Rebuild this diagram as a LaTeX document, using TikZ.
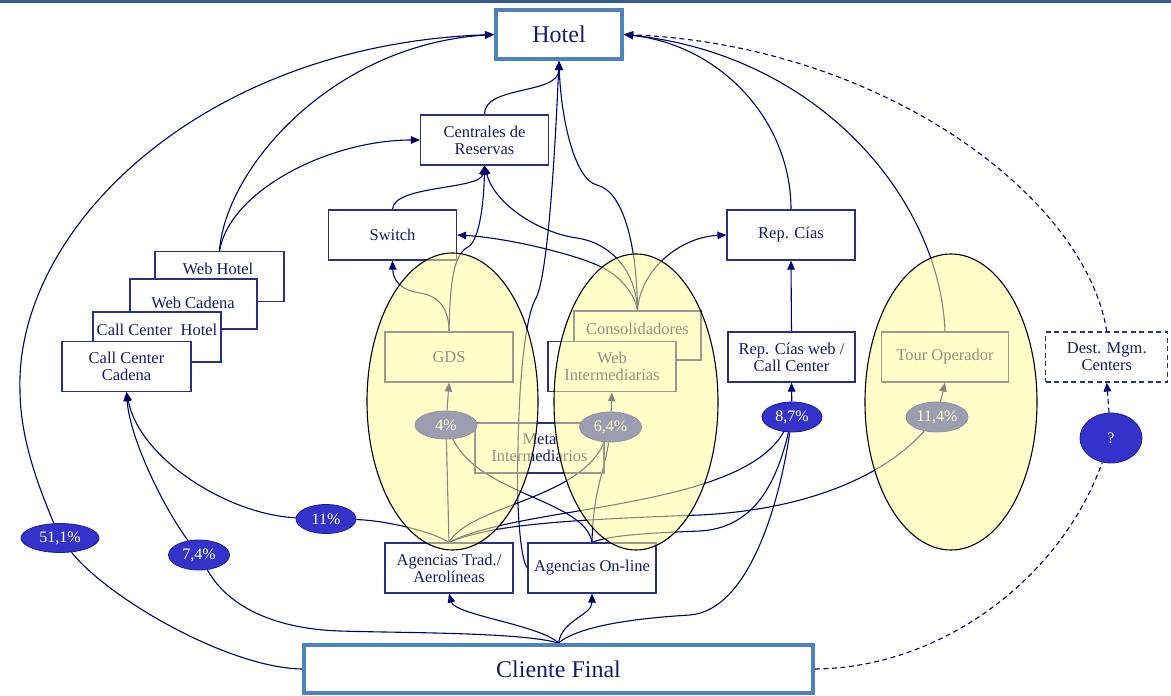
\documentclass[tikz,border=0pt]{standalone}
\usepackage{fontspec}
\setmainfont{Liberation Serif}
\usetikzlibrary{arrows.meta,shapes.geometric}
\pgfdeclarelayer{wires}
\pgfdeclarelayer{veil}
\pgfsetlayers{wires,main,veil}

\definecolor{navyline}{RGB}{0,0,110}
\definecolor{navybox}{RGB}{45,45,140}
\definecolor{navytext}{RGB}{25,25,110}
\definecolor{frameblue}{RGB}{79,129,189}
\definecolor{pctblue}{RGB}{51,51,204}
\definecolor{pctedge}{RGB}{30,30,150}
\definecolor{paleyellow}{RGB}{255,255,153}
\definecolor{topbar}{RGB}{52,92,140}

\tikzset{
  stdbox/.style={draw=navybox, line width=1.2pt, fill=white, minimum width=128pt,
    minimum height=50pt, inner sep=0pt, align=center, text=navytext,
    font=\fontsize{16.5}{17}\selectfont},
  openbox/.style={stdbox, fill=none},
  dashbox/.style={stdbox, dashed, dash pattern=on 5pt off 3.5pt},
  bigbox/.style={draw=frameblue, line width=4pt, fill=white, inner sep=0pt,
    text=navytext, font=\fontsize{24}{26}\selectfont},
  lbl/.style={inner sep=0pt, align=center, text=navytext, font=\fontsize{16.5}{17}\selectfont},
  pct/.style={ellipse, draw=pctedge, line width=0.8pt, fill=pctblue, inner sep=0pt,
    text=white, font=\fontsize{16}{17}\selectfont},
  zone/.style={ellipse, draw=black, line width=1.1pt, fill=paleyellow,
    fill opacity=0.52, inner sep=0pt},
  wire/.style={draw=navyline, line width=1.1pt},
  tip/.style={-{Triangle[length=9pt,width=7.5pt]}},
  arrowwire/.style={wire, tip},
  dashwire/.style={wire, dashed, dash pattern=on 5pt off 3.5pt},
}

\begin{document}
\begin{tikzpicture}[x=1pt, y=-1pt]
\useasboundingbox (0,0) rectangle (1171,696);
\fill[topbar] (0,0) rectangle (1171,2.5);

% main boxes
\node[bigbox, minimum width=126pt, minimum height=49pt] (hotel) at (559,34.5) {Hotel};
\node[bigbox, minimum width=509pt, minimum height=48pt] (cliente) at (558.5,669) {Cliente Final};
\node[stdbox] (centrales) at (484.5,140) {Centrales de\\Reservas};
\node[stdbox] (switch) at (392.5,235) {Switch};
\node[stdbox] (repcias) at (791,235) {Rep. Cías};

% stacked own channels
\node[stdbox, minimum width=129pt] (webhotel) at (219.5,276.5) {};
\node[lbl] (webhotelT) at (218,269) {Web Hotel};
\node[stdbox, minimum width=127pt] (webcadena) at (193.5,304) {};
\node[lbl] (webcadenaT) at (193,303) {Web Cadena};
\node[stdbox] (callhotel) at (157,337) {};
\node[lbl] (callhotelT) at (157,330) {Call Center\ \ Hotel};
\node[stdbox, minimum width=129pt] (callcadena) at (126.5,366.5) {Call Center\\Cadena};

% intermediaries
\node[stdbox, minimum width=127pt, minimum height=49pt] (consol) at (637.5,335.5) {};
\node[lbl] (consolT) at (637.5,329) {Consolidadores};
\node[stdbox] (webint) at (612,366.7) {Web\\Intermediarias};
\node[stdbox] (gds) at (449,357) {GDS};
\node[openbox, minimum width=129pt] (meta) at (539.5,448) {Meta\\Intermediarios};
\node[stdbox, minimum width=127pt] (repweb) at (791.5,357) {Rep. Cías web /\\Call Center};
\node[stdbox, minimum width=127pt] (tour) at (945,357) {Tour Operador};
\node[dashbox, minimum width=122pt] (dest) at (1106.75,357) {Dest. Mgm.\\Centers};
\node[stdbox] (agtrad) at (449,568) {Agencias Trad./\\Aerolíneas};
\node[stdbox] (agonline) at (592,568) {Agencias On-line};

% shares
\node[pct, minimum width=78pt, minimum height=29pt] (p51) at (60,538) {51,1\%};
\node[pct, minimum width=61pt, minimum height=30pt] (p74) at (199,555) {7,4\%};
\node[pct, minimum width=60pt, minimum height=29pt] (p11) at (326,519) {11\%};
\node[pct, minimum width=62pt, minimum height=28pt] (p4) at (446,425) {4\%};
\node[pct, minimum width=62pt, minimum height=30pt] (p64) at (610.5,427) {6,4\%};
\node[pct, minimum width=60pt, minimum height=30pt] (p87) at (792,417) {8,7\%};
\node[pct, minimum width=62pt, minimum height=30pt] (p114) at (937,417) {11,4\%};
\node[pct, minimum width=62pt, minimum height=50pt] (pq) at (1111,438) {?};

\begin{pgfonlayer}{wires}
% direct booking path
\draw[wire] (cliente.west) .. controls (230,668) and (110,600) .. (p51);
\draw[arrowwire] (p51) .. controls (40,490) and (20,440) .. (20,390)
  .. controls (15,230) and (200,45) .. (hotel.west);
\draw[arrowwire] (webhotel.north) .. controls (225,170) and (330,45) .. (hotel.west);
\draw[arrowwire] (webhotel.north) .. controls (230,190) and (330,140) .. (centrales.west);

% into Hotel from below
\draw[arrowwire] (centrales.north) .. controls (484,85) and (559,95) .. (hotel.south);
\draw[arrowwire] (agonline.west) .. controls (520,560) and (516,500) .. (518,450)
  .. controls (519,380) and (525,320) .. (535,300)
  .. controls (545,285) and (553,200) .. (hotel.south);
\draw[arrowwire] (consol.north) .. controls (637,250) and (625,192) .. (597,185)
  .. controls (575,180) and (561,120) .. (hotel.south);

% into Hotel from the right
\draw[arrowwire] (repcias.north) .. controls (791,120) and (720,45) .. (hotel.east);
\draw[arrowwire] (tour.north) .. controls (940,200) and (820,55) .. (hotel.east);
\draw[dashwire, tip] (dest.north) .. controls (1085,195) and (880,45) .. (hotel.east);
\draw[dashwire] (cliente.east) .. controls (940,668) and (1060,580) .. (pq);
\draw[dashwire, tip] (pq) -- (dest.south);

% reservation centres and switch
\draw[arrowwire] (switch.north) .. controls (393,185) and (480,190) .. (centrales.south);
\draw[arrowwire] (gds.north) .. controls (450,290) and (452,255) .. (468,247)
  .. controls (480,240) and (484,200) .. (centrales.south);
\draw[arrowwire] (consol.north) .. controls (636,270) and (610,243) .. (577,238)
  .. controls (540,233) and (495,205) .. (centrales.south);
\draw[arrowwire] (consol.north) .. controls (634,290) and (615,272) .. (597,265)
  .. controls (575,255) and (510,238) .. (switch.east);
\draw[arrowwire] (consol.north) .. controls (640,270) and (680,237) .. (repcias.west);
\draw[arrowwire] (gds.north) .. controls (449,310) and (440,296) .. (420,293)
  .. controls (400,290) and (393,280) .. (switch.south);
\draw[arrowwire] (repweb.north) -- (repcias.south);

% shares into intermediaries
\draw[arrowwire] (p4) -- (gds.south);
\draw[arrowwire] (p64) -- (webint.south);
\draw[arrowwire] (p87) -- (repweb.south);
\draw[arrowwire] (p114) -- (tour.south);

% from traditional agencies
\draw[wire] (agtrad.north) -- (p4);
\draw[wire] (agtrad.north) .. controls (430,530) and (380,520) .. (p11);
\draw[wire] (agtrad.north) .. controls (470,505) and (580,500) .. (p64);
\draw[wire] (agtrad.north) .. controls (520,505) and (740,510) .. (p87);
\draw[wire] (agtrad.north) .. controls (490,525) and (560,520) .. (700,515)
  .. controls (800,510) and (880,480) .. (p114);

% from on-line agencies
\draw[wire] (agonline.north) .. controls (585,500) and (480,495) .. (p4);
\draw[wire] (agonline.north) .. controls (593,490) and (605,470) .. (p64);
\draw[wire] (agonline.north) .. controls (610,535) and (650,533) .. (700,531)
  .. controls (750,528) and (775,490) .. (p87);

% from the final customer
\draw[arrowwire] (cliente.north) .. controls (540,625) and (455,615) .. (agtrad.south);
\draw[arrowwire] (cliente.north) .. controls (562,620) and (592,615) .. (agonline.south);
\draw[wire] (cliente.north) .. controls (520,632) and (400,633) .. (340,631)
  .. controls (280,629) and (230,610) .. (p74);
\draw[wire] (cliente.north) .. controls (580,625) and (640,618) .. (690,615)
  .. controls (750,610) and (780,500) .. (p87);

% into the chain call centre
\draw[arrowwire] (p74) .. controls (165,510) and (130,440) .. (callcadena.south);
\draw[arrowwire] (p11) .. controls (230,515) and (140,460) .. (callcadena.south);
\end{pgfonlayer}

\begin{pgfonlayer}{veil}
\node[zone, minimum width=171pt, minimum height=297pt] (zoneGDS) at (452.5,401.5) {};
\node[zone, minimum width=164pt, minimum height=296pt] (zoneWeb) at (636,402) {};
\node[zone, minimum width=172pt, minimum height=296pt] (zoneTour) at (951,402) {};
\end{pgfonlayer}
\end{tikzpicture}
\end{document}
